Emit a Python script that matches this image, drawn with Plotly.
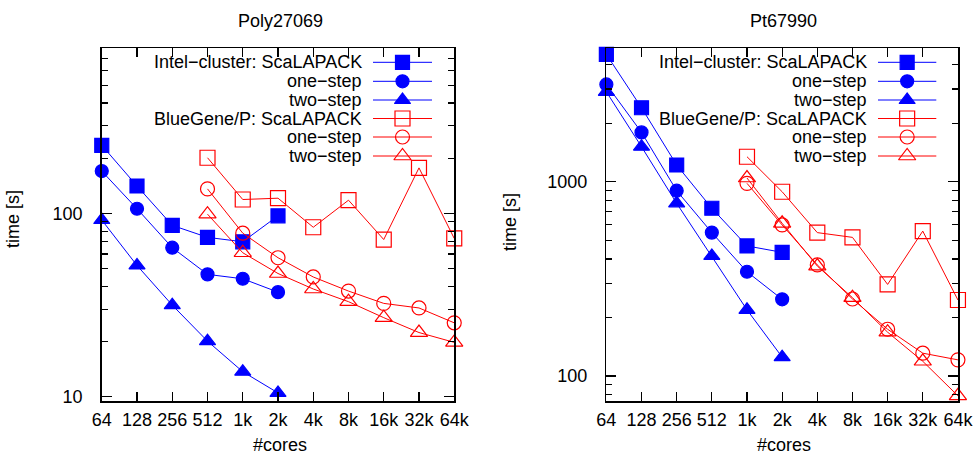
import plotly.graph_objects as go
import math

cores = [64, 128, 256, 512, 1024, 2048, 4096, 8192, 16384, 32768, 65536]
tick_labels = ["64", "128", "256", "512", "1k", "2k", "4k", "8k", "16k", "32k", "64k"]

# Poly27069
poly_intel_cores = cores[:6]
poly_intel_scalapack = [235, 141, 86, 74, 70, 97]
poly_intel_onestep = [170, 106, 65, 46.5, 44, 37.2]
poly_intel_twostep = [92, 52, 31.6, 20.1, 13.7, 10.5]
poly_bg_cores = cores[3:]
poly_bg_scalapack = [201, 119, 121, 84, 118, 72, 177, 73]
poly_bg_onestep = [136, 78, 57.3, 45, 37.7, 32.3, 30.5, 25.3]
poly_bg_twostep = [99, 61, 47, 38.7, 33, 27, 22.4, 19.8]

# Pt67990
pt_intel_cores = cores[:6]
pt_intel_scalapack = [4525, 2404, 1219, 730, 467, 433]
pt_intel_onestep = [3170, 1795, 899, 547, 344, 248]
pt_intel_twostep = [2904, 1514, 774, 415, 219, 125]
pt_bg_cores = cores[4:]
pt_bg_scalapack = [1345, 888, 547, 517, 296, 557, 246]
pt_bg_onestep = [981, 599, 373, 249, 174, 131, 121]
pt_bg_twostep = [1045, 611, 368, 253, 168, 119, 79]

legend_labels = ["Intel\u2212cluster: ScaLAPACK", "one\u2212step", "two\u2212step",
                 "BlueGene/P: ScaLAPACK", "one\u2212step", "two\u2212step"]

BLUE = "rgb(0,0,255)"
RED = "rgb(255,0,0)"
FONT = "Liberation Sans, Arial, sans-serif"
FS = 18
W, H = 976, 454

styles = [
    (BLUE, "square", 14), (BLUE, "circle", 13), (BLUE, "triangle-up", 14),
    (RED, "square-open", 15), (RED, "circle-open", 14), (RED, "triangle-up-open", 15),
]

fig = go.Figure()

panels = [
    ("x", "y", [poly_intel_cores] * 3 + [poly_bg_cores] * 3,
     [poly_intel_scalapack, poly_intel_onestep, poly_intel_twostep,
      poly_bg_scalapack, poly_bg_onestep, poly_bg_twostep]),
    ("x2", "y2", [pt_intel_cores] * 3 + [pt_bg_cores] * 3,
     [pt_intel_scalapack, pt_intel_onestep, pt_intel_twostep,
      pt_bg_scalapack, pt_bg_onestep, pt_bg_twostep]),
]

for xa, ya, xs_list, ys_list in panels:
    for (col, sym, sz), xs, ys, name in zip(styles, xs_list, ys_list, legend_labels):
        fig.add_trace(go.Scatter(
            x=xs, y=ys, xaxis=xa, yaxis=ya, mode="lines+markers", name=name,
            line=dict(color=col, width=1),
            marker=dict(symbol=sym, size=sz, color=col, line=dict(color=col, width=1.2)),
            cliponaxis=False, showlegend=False))

# pixel geometry of panels
px_left = [(101.7, 454.3), (606.3, 958.0)]
py_top, py_bot = 48.3, 401.0
ydom = [(H - py_bot) / H, (H - py_top) / H]
yranges = [[0.977, 2.900], [1.871, 3.687]]
titles = ["Poly27069", "Pt67990"]

eps = 0.0005
common_x = dict(type="log", range=[math.log10(64) - eps, math.log10(65536) + eps],
                tickvals=cores, ticktext=tick_labels, ticks="inside", ticklen=9,
                tickwidth=1.2, tickcolor="black", showline=True, linecolor="black",
                linewidth=1.5, mirror="ticks", showgrid=False, zeroline=False,
                tickfont=dict(family=FONT, size=FS, color="black"),
                ticklabelstandoff=2, automargin=False)
common_y = dict(type="log", dtick=1, ticks="inside", ticklen=10, tickwidth=1.2,
                tickcolor="black", showline=True, linecolor="black", linewidth=1.5,
                mirror="ticks", showgrid=False, zeroline=False,
                tickfont=dict(family=FONT, size=FS, color="black"),
                ticklabelstandoff=14, automargin=False,
                minor=dict(ticks="inside", ticklen=6, dtick="D1", tickcolor="black",
                           tickwidth=1.2, showgrid=False))

for i, (xa, ya) in enumerate([("xaxis", "yaxis"), ("xaxis2", "yaxis2")]):
    x0, x1 = px_left[i]
    fig.layout[xa] = dict(common_x, domain=[x0 / W, x1 / W], anchor="y" if i == 0 else "y2")
    fig.layout[ya] = dict(common_y, domain=ydom, range=yranges[i],
                          anchor="x" if i == 0 else "x2")

# overlay pixel axis for legend & labels
fig.layout["xaxis3"] = dict(domain=[0, 1], range=[0, W], visible=False, anchor="y3",
                            fixedrange=True, automargin=False)
fig.layout["yaxis3"] = dict(domain=[0, 1], range=[H, 0], visible=False, anchor="x3",
                            fixedrange=True, automargin=False)

leg_rows = [62.3, 81.3, 100.0, 118.5, 137.0, 156.0]
leg_geo = [(361.0, 373.0, 432.0), (865.7, 878.0, 936.3)]
title_x = [280, 783]
xlabel_x = [280, 784]
ylabel_pos = [(13, 219), (510, 222)]
shapes = []
annotations = []
for i in range(2):
    tx, lx0, lx1 = leg_geo[i]
    mx = (lx0 + lx1) / 2
    for (col, sym, sz), ry, lab in zip(styles, leg_rows, legend_labels):
        shapes.append(dict(type="line", xref="x3", yref="y3", x0=lx0, x1=lx1, y0=ry, y1=ry,
                           line=dict(color=col, width=1)))
        annotations.append(dict(xref="x3", yref="y3", x=tx + 3, y=ry, text=lab, showarrow=False,
                                xanchor="right", yanchor="middle",
                                font=dict(family=FONT, size=FS, color="black")))
        fig.add_trace(go.Scatter(x=[mx], y=[ry], xaxis="x3", yaxis="y3", mode="markers",
                                 marker=dict(symbol=sym, size=sz, color=col,
                                             line=dict(color=col, width=1.2)),
                                 showlegend=False, hoverinfo="skip", cliponaxis=False))
    annotations.append(dict(xref="x3", yref="y3", x=title_x[i], y=21, text=titles[i],
                            showarrow=False, xanchor="center", yanchor="middle",
                            font=dict(family=FONT, size=FS, color="black")))
    annotations.append(dict(xref="x3", yref="y3", x=xlabel_x[i], y=445, text="#cores",
                            showarrow=False, xanchor="center", yanchor="middle",
                            font=dict(family=FONT, size=FS, color="black")))
    annotations.append(dict(xref="x3", yref="y3", x=ylabel_pos[i][0], y=ylabel_pos[i][1],
                            text="time [s]", showarrow=False, textangle=-90,
                            xanchor="center", yanchor="middle",
                            font=dict(family=FONT, size=FS, color="black")))

fig.update_layout(width=W, height=H,
                  margin=dict(l=0, r=0, t=0, b=0, pad=0, autoexpand=False),
                  plot_bgcolor="rgba(0,0,0,0)", paper_bgcolor="white",
                  shapes=shapes, annotations=annotations, showlegend=False,
                  hovermode=False)

fig.write_html("out.html", config={"displayModeBar": False, "staticPlot": True},
               post_script="document.body.style.margin='0';document.body.style.padding='0';"
                           "document.body.style.overflow='hidden';")
